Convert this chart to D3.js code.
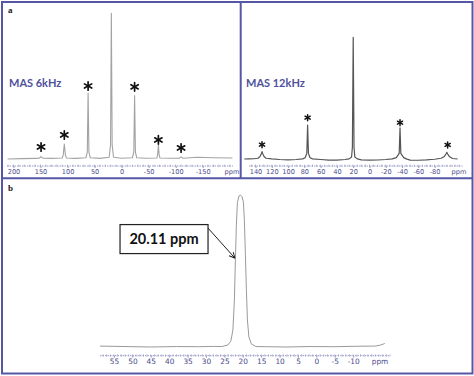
<!DOCTYPE html>
<html><head><meta charset="utf-8">
<script src="https://cdn.jsdelivr.net/npm/d3@7"></script>
<style>body{margin:0;background:#fff}svg{display:block}</style>
</head><body>
<script>
// ---------- DATA ----------
// MAS 6 kHz spectrum: [ppm, relative intensity]
const spectrum6kHz = [
 [211,0.3],[185,0.6],[160,0.8],[153,0.9],[151,1.4],[149,2.0],[147,1.4],[145,0.9],[130,0.8],
 [110,1.0],[108,3.0],[106,10.6],[104,3.0],[102,1.0],[85,0.8],
 [66,1.2],[63.5,5],[62,45.5],[60.5,5],[58,1.2],[40,0.8],
 [23,1.5],[20.5,10],[19,100],[17.5,10],[15,1.5],[0,0.9],
 [-20,1.2],[-22.5,5],[-24,43.7],[-25.5,5],[-28,1.2],[-45,0.9],
 [-65,1.0],[-66.5,3.0],[-68,9.9],[-69.5,3.0],[-71,1.0],[-90,0.9],
 [-107,0.9],[-108.5,1.5],[-110,1.8],[-111.5,1.5],[-113,0.9],[-140,1.5],[-170,1.2],[-205,1.0]
];
const stars6kHz = [[149,8.6],[106,16.8],[62,50.3],[-24,49.7],[-68,13.4],[-110,7.9]];
const ticks6kHz = [200,150,100,50,0,-50,-100,-150];

// MAS 12 kHz spectrum
const spectrum12kHz = [
 [153.8,0.4],[148,0.5],[142,0.6],[137,1.0],[134.5,2.5],[133,4.5],[132,6.4],[131,4.5],[129.5,2.5],[127,1.0],
 [120,0.5],[110,0],[100,-0.3],[90,0],[82,0.5],[79,1.5],[77,5],[76,28.2],[75,5],[73,1.5],[70,0.5],
 [60,0],[50,-0.5],[40,-0.5],[30,0],[25,0.5],[22,2],[21,10],[20,100],[19,10],[18,2],[15,0.5],
 [10,-0.3],[0,-0.5],[-10,-0.4],[-20,0],[-28,0.5],[-33,1.5],[-36.5,5],[-37.5,26],[-38.5,5],[-42,1.5],
 [-46,0.3],[-50,-0.5],[-60,-0.6],[-70,-0.3],[-80,0.2],[-88,1],[-92,2.5],[-94,4.5],[-95,5.9],[-96,4.5],
 [-98,2.5],[-102,0.8],[-108.4,0.4]
];
const stars12kHz = [[132,12.1],[76,34.2],[-37.5,30.1],[-96,11.9]];
const ticks12kHz = [140,120,100,80,60,40,20,0,-20,-40,-60,-80];

// Expanded spectrum (panel b)
const spectrumMain = [
 [58.8,0.6],[52,0.3],[45,0],[38,0.3],[32,0.2],[28,0.4],
 [25.7,0.3],[24.05,1.3],[23.23,4],[22.69,11.2],[22.28,31],[22.01,57.4],[21.74,80.4],[21.47,94.9],
 [21.06,99.3],[20.65,100],[20.24,99],[19.84,95.6],[19.57,83.7],[19.29,60.6],[19.02,37.6],[18.75,17.8],
 [18.34,6.6],[17.66,2],[16.44,0.3],[14,0.2],[8,0],[2,0.3],[-5,0.2],[-11,0.5],[-16,0.6],[-17.3,1.2],[-18.6,2.3]
];
const ticksMain = [55,50,45,40,35,30,25,20,15,10,5,0,-5,-10];
const peakLabel = "20.11 ppm";

// ---------- DRAW ----------
const W = 474, H = 376;
const border = "#5656a6", axisCol = "#9c9cc8", labelCol = "#4c4c8e";
const svg = d3.select("body").append("svg").attr("width", W).attr("height", H);

// scales
const xA = d3.scaleLinear().domain([212, -206]).range([7, 233]);
const yA = d3.scaleLinear().domain([0, 100]).range([159.5, 13.3]);
const xB = d3.scaleLinear().domain([148, -114.5]).range([249, 462.7]);
const yB = d3.scaleLinear().domain([0, 100]).range([159.5, 37.3]);
const xC = d3.scaleLinear().domain([58.8, -20]).range([100, 390]);
const yC = d3.scaleLinear().domain([0, 100]).range([347, 195]);

function spectrum(data, x, y, color, width) {
  svg.append("path").datum(data)
    .attr("d", d3.line().x(d => x(d[0])).y(d => y(d[1])))
    .attr("fill", "none").attr("stroke", color).attr("stroke-width", width)
    .attr("stroke-linejoin", "round");
}
function axis(x, yPos, ticks, minorStep, fontSize, pad, ppmX) {
  const g = svg.append("g").attr("transform", `translate(0,${yPos})`);
  const [d0, d1] = x.domain();
  const minors = d3.range(Math.ceil(Math.min(d0, d1) / minorStep) * minorStep, Math.max(d0, d1), minorStep);
  g.append("line").attr("x1", x.range()[0]).attr("x2", x.range()[1])
    .attr("stroke", axisCol).attr("stroke-width", 1).attr("stroke-dasharray", "1.5,1");
  g.selectAll("line.minor").data(minors).join("line").attr("class", "minor")
    .attr("x1", d => x(d)).attr("x2", d => x(d)).attr("y1", -1.5).attr("y2", 1)
    .attr("stroke", axisCol).attr("stroke-width", 0.7);
  const ax = d3.axisBottom(x).tickValues(ticks).tickSize(2).tickPadding(pad).tickFormat(d3.format("d"));
  const a = svg.append("g").attr("transform", `translate(0,${yPos})`).call(ax);
  a.select(".domain").remove();
  a.selectAll(".tick line").attr("stroke", axisCol);
  a.selectAll(".tick text").attr("fill", labelCol).attr("font-family", "DejaVu Sans")
    .attr("font-size", fontSize).text(d => d < 0 ? "-" + Math.abs(d) : d);
  a.append("text").attr("x", ppmX).attr("y", 2 + pad).attr("dy", "0.71em")
    .attr("text-anchor", "middle").attr("fill", labelCol)
    .attr("font-family", "DejaVu Sans").attr("font-size", fontSize).text("ppm");
}
function stars(data, x, y, r, sw) {
  const g = svg.append("g");
  data.forEach(d => {
    const cx = x(d[0]), cy = y(d[1]);
    [90, 30, 150].forEach(a => {
      const rad = a * Math.PI / 180;
      g.append("line")
        .attr("x1", cx - r * Math.cos(rad)).attr("y1", cy - r * Math.sin(rad))
        .attr("x2", cx + r * Math.cos(rad)).attr("y2", cy + r * Math.sin(rad))
        .attr("stroke", "#111").attr("stroke-width", sw).attr("stroke-linecap", "round");
    });
  });
}

// Panel a (left)
spectrum(spectrum6kHz, xA, yA, "#a3a3a3", 1.1);
stars(stars6kHz, xA, yA, 4.2, 1.7);
axis(xA, 166, ticks6kHz, 10, 6.6, 1, 232);
svg.append("text").attr("x", 9).attr("y", 87).attr("font-family", "Lato").attr("font-weight", "bold")
  .attr("font-size", 11).attr("fill", "#4e519c").text("MAS 6kHz");

// Panel a (right)
spectrum(spectrum12kHz, xB, yB, "#555555", 1.2);
stars(stars12kHz, xB, yB, 3, 1.5);
axis(xB, 166, ticks12kHz, 5, 6.6, 1, 459);
svg.append("text").attr("x", 246).attr("y", 87).attr("font-family", "Lato").attr("font-weight", "bold")
  .attr("font-size", 11).attr("fill", "#4e519c").text("MAS 12kHz");

// Panel b
spectrum(spectrumMain, xC, yC, "#9a9a9a", 1);
axis(xC, 355.7, ticksMain, 1, 7.4, 1.5, 380);

// annotation
const boxC = [xC(41.4), yC(71)], tip = [xC(22.15), yC(58.5)];
svg.append("rect").attr("x", boxC[0] - 44).attr("y", boxC[1] - 14.5).attr("width", 88).attr("height", 29)
  .attr("fill", "#fff").attr("stroke", "#222").attr("stroke-width", 1.2);
svg.append("text").attr("x", boxC[0]).attr("y", boxC[1] + 5).attr("text-anchor", "middle")
  .attr("font-family", "Lato").attr("font-weight", "bold").attr("font-size", 14.5).attr("fill", "#111")
  .text(peakLabel);
svg.append("defs").append("marker").attr("id", "arr").attr("viewBox", "0 0 10 10")
  .attr("refX", 9).attr("refY", 5).attr("markerWidth", 7).attr("markerHeight", 7).attr("orient", "auto")
  .append("path").attr("d", "M1,1 L9,5 L1,9").attr("fill", "none").attr("stroke", "#222").attr("stroke-width", 1.4);
svg.append("line").attr("x1", boxC[0] + 44).attr("y1", boxC[1] - 11).attr("x2", tip[0]).attr("y2", tip[1])
  .attr("stroke", "#222").attr("stroke-width", 1).attr("marker-end", "url(#arr)");

// panel letters
svg.append("text").attr("x", 8).attr("y", 13).attr("font-family", "Liberation Serif").attr("font-weight", "bold")
  .attr("font-size", 9).attr("fill", "#222").text("a");
svg.append("text").attr("x", 8).attr("y", 191).attr("font-family", "Liberation Serif").attr("font-weight", "bold")
  .attr("font-size", 9).attr("fill", "#222").text("b");

// frames
svg.append("rect").attr("x", 2).attr("y", 2).attr("width", 470.5).attr("height", 371.5)
  .attr("fill", "none").attr("stroke", border).attr("stroke-width", 2);
svg.append("line").attr("x1", 2).attr("x2", 472.5).attr("y1", 178.3).attr("y2", 178.3)
  .attr("stroke", border).attr("stroke-width", 2);
svg.append("line").attr("x1", 240.7).attr("x2", 240.7).attr("y1", 2).attr("y2", 178.3)
  .attr("stroke", border).attr("stroke-width", 2);
</script>
</body></html>
